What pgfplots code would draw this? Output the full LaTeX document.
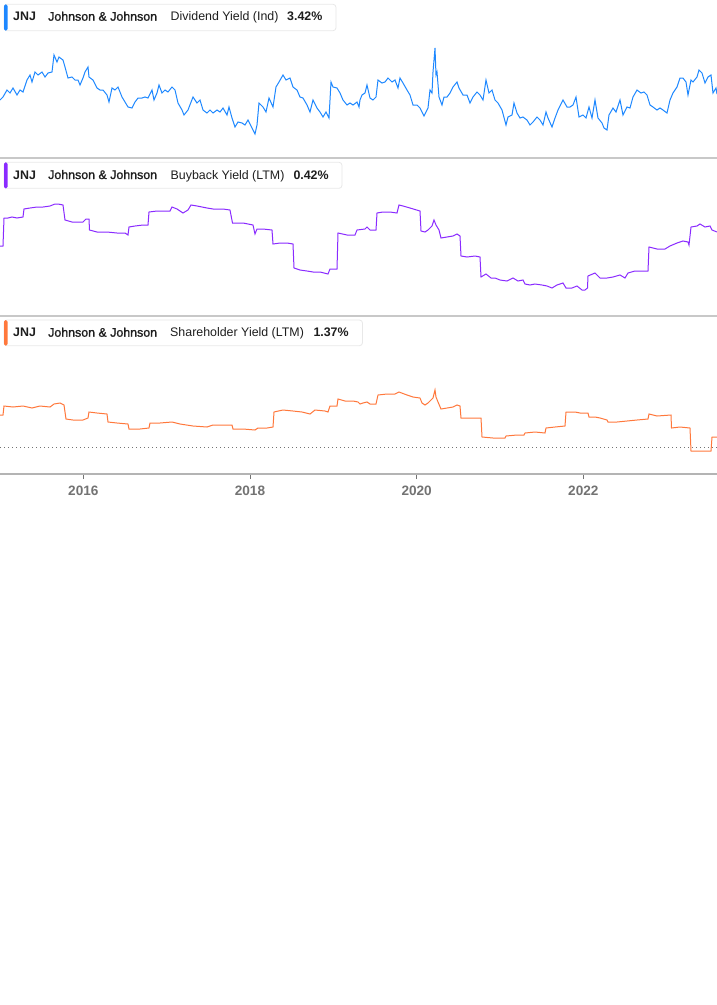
\documentclass[border=0pt]{standalone}
\usepackage{fontspec}
\setmainfont{Liberation Sans}
\newfontfamily\medfont[FakeBold=1.2]{Liberation Sans}
\usepackage{pgfplots}
\pgfplotsset{compat=1.18}

\definecolor{divblue}{RGB}{30,136,255}
\definecolor{bbpurple}{RGB}{138,43,255}
\definecolor{shorange}{RGB}{255,120,60}
\definecolor{txt}{RGB}{30,30,30}
\definecolor{boxgray}{RGB}{232,232,232}
\definecolor{sepgray}{RGB}{200,200,200}
\definecolor{axgray}{RGB}{180,180,180}
\definecolor{lblgray}{RGB}{115,115,115}

\newcommand\legfont{\fontsize{12.4pt}{14pt}\selectfont}

\pgfplotsset{
  panel/.style={
    scale only axis, width=717pt, height=158pt,
    xmin=2015.0, xmax=2023.604,
    clip=true,
  },
}

\begin{document}
\begin{tikzpicture}
\useasboundingbox (0,0) rectangle (717pt,-1005pt);
\fill[white] (0,0) rectangle (717pt,-1005pt);

% --- dividend yield
\begin{axis}[panel, at={(0pt,0pt)}, anchor=north west, hide axis,
  ymin=2.32, ymax=3.90]
\addplot[divblue, line width=1pt] coordinates {
(2015.000,2.90)(2015.036,2.93)(2015.084,3.00)(2015.120,2.97)(2015.156,3.02)(2015.204,2.95)(2015.240,3.00)(2015.276,2.98)(2015.324,3.10)(2015.360,3.15)(2015.384,3.08)(2015.420,3.18)(2015.456,3.15)(2015.504,3.18)(2015.540,3.13)(2015.576,3.17)(2015.624,3.18)(2015.648,3.35)(2015.684,3.28)(2015.708,3.33)(2015.756,3.30)(2015.780,3.23)(2015.816,3.12)(2015.864,3.13)(2015.900,3.10)(2015.936,3.10)(2015.960,3.05)(2015.996,3.12)(2016.020,3.18)(2016.056,3.23)(2016.068,3.13)(2016.116,3.10)(2016.164,3.02)(2016.200,3.00)(2016.236,3.00)(2016.284,2.95)(2016.308,2.88)(2016.344,3.02)(2016.380,3.00)(2016.416,3.03)(2016.464,2.93)(2016.500,2.88)(2016.536,2.83)(2016.584,2.82)(2016.620,2.88)(2016.656,2.92)(2016.704,2.92)(2016.740,2.93)(2016.776,2.92)(2016.824,3.00)(2016.848,2.90)(2016.884,2.97)(2016.908,3.05)(2016.944,2.97)(2016.980,3.00)(2017.016,2.98)(2017.064,3.03)(2017.100,3.00)(2017.136,2.87)(2017.184,2.80)(2017.208,2.75)(2017.256,2.80)(2017.316,2.93)(2017.364,2.87)(2017.400,2.90)(2017.436,2.80)(2017.484,2.77)(2017.520,2.80)(2017.556,2.77)(2017.604,2.80)(2017.640,2.78)(2017.676,2.82)(2017.724,2.75)(2017.748,2.83)(2017.784,2.72)(2017.820,2.63)(2017.856,2.68)(2017.904,2.67)(2017.940,2.65)(2017.976,2.70)(2018.024,2.62)(2018.060,2.56)(2018.084,2.65)(2018.108,2.87)(2018.156,2.83)(2018.192,2.78)(2018.228,2.92)(2018.276,2.83)(2018.312,3.03)(2018.348,3.08)(2018.396,3.15)(2018.432,3.10)(2018.480,3.12)(2018.516,3.03)(2018.564,3.00)(2018.600,2.93)(2018.636,2.92)(2018.684,2.85)(2018.720,2.78)(2018.756,2.90)(2018.804,2.82)(2018.840,2.78)(2018.876,2.73)(2018.912,2.78)(2018.948,2.72)(2018.972,3.08)(2018.996,3.03)(2019.044,3.02)(2019.080,2.97)(2019.116,2.90)(2019.164,2.85)(2019.200,2.87)(2019.236,2.85)(2019.284,2.88)(2019.308,2.83)(2019.320,2.90)(2019.344,2.95)(2019.380,2.97)(2019.404,3.05)(2019.440,2.92)(2019.476,2.90)(2019.512,2.93)(2019.536,3.10)(2019.584,3.07)(2019.620,3.08)(2019.656,3.12)(2019.704,3.08)(2019.740,3.10)(2019.776,3.02)(2019.800,3.12)(2019.836,3.07)(2019.884,3.00)(2019.920,2.95)(2019.956,2.85)(2020.004,2.85)(2020.040,2.82)(2020.088,2.74)(2020.136,2.82)(2020.160,3.00)(2020.184,2.97)(2020.196,3.18)(2020.220,3.42)(2020.232,3.15)(2020.244,3.18)(2020.268,2.93)(2020.304,2.85)(2020.328,2.93)(2020.364,2.93)(2020.400,2.97)(2020.436,3.03)(2020.484,3.08)(2020.508,3.02)(2020.556,2.95)(2020.604,2.95)(2020.640,2.87)(2020.676,2.93)(2020.724,2.98)(2020.760,2.95)(2020.796,2.90)(2020.832,3.10)(2020.868,2.97)(2020.904,3.00)(2020.940,2.90)(2020.976,2.87)(2021.024,2.80)(2021.072,2.65)(2021.096,2.73)(2021.144,2.75)(2021.168,2.87)(2021.204,2.77)(2021.240,2.72)(2021.276,2.73)(2021.324,2.70)(2021.360,2.65)(2021.396,2.68)(2021.444,2.73)(2021.480,2.70)(2021.516,2.65)(2021.552,2.78)(2021.576,2.72)(2021.624,2.63)(2021.660,2.72)(2021.696,2.80)(2021.756,2.90)(2021.804,2.83)(2021.840,2.83)(2021.876,2.85)(2021.912,2.93)(2021.948,2.73)(2021.996,2.75)(2022.032,2.72)(2022.068,2.83)(2022.104,2.72)(2022.140,2.90)(2022.176,2.72)(2022.224,2.67)(2022.248,2.62)(2022.284,2.60)(2022.308,2.75)(2022.356,2.82)(2022.392,2.78)(2022.440,2.90)(2022.476,2.75)(2022.524,2.83)(2022.560,2.82)(2022.596,2.93)(2022.644,3.00)(2022.692,2.97)(2022.728,2.98)(2022.764,2.95)(2022.800,2.85)(2022.836,2.83)(2022.884,2.80)(2022.920,2.82)(2022.956,2.80)(2023.004,2.77)(2023.040,2.90)(2023.076,2.97)(2023.124,3.03)(2023.160,3.12)(2023.196,3.12)(2023.232,3.08)(2023.256,2.95)(2023.292,3.10)(2023.316,3.08)(2023.364,3.13)(2023.388,3.20)(2023.424,3.17)(2023.460,3.07)(2023.496,3.13)(2023.532,3.15)(2023.556,2.97)(2023.592,3.02)(2023.604,2.96)
};
\end{axis}

% --- buyback yield
\begin{axis}[panel, at={(0pt,-158pt)}, anchor=north west, hide axis,
  ymin=-0.16, ymax=1.42]
\addplot[bbpurple, line width=1pt] coordinates {
(2015.000,0.54)(2015.036,0.54)(2015.048,0.82)(2015.096,0.82)(2015.144,0.83)(2015.204,0.82)(2015.276,0.83)(2015.288,0.91)(2015.360,0.92)(2015.444,0.93)(2015.516,0.93)(2015.600,0.94)(2015.660,0.96)(2015.696,0.96)(2015.756,0.95)(2015.780,0.80)(2015.864,0.78)(2015.936,0.78)(2015.996,0.78)(2016.032,0.81)(2016.068,0.81)(2016.074,0.70)(2016.164,0.68)(2016.284,0.68)(2016.404,0.67)(2016.500,0.67)(2016.536,0.65)(2016.548,0.73)(2016.620,0.74)(2016.716,0.75)(2016.776,0.75)(2016.788,0.88)(2016.884,0.89)(2016.980,0.89)(2017.040,0.89)(2017.064,0.93)(2017.124,0.91)(2017.196,0.87)(2017.256,0.90)(2017.292,0.95)(2017.364,0.94)(2017.484,0.92)(2017.556,0.91)(2017.676,0.91)(2017.760,0.90)(2017.790,0.77)(2017.916,0.77)(2018.036,0.75)(2018.060,0.66)(2018.084,0.71)(2018.156,0.71)(2018.264,0.70)(2018.276,0.56)(2018.360,0.57)(2018.444,0.57)(2018.516,0.56)(2018.528,0.32)(2018.600,0.30)(2018.684,0.29)(2018.756,0.28)(2018.840,0.28)(2018.936,0.26)(2018.960,0.31)(2019.044,0.31)(2019.056,0.67)(2019.164,0.65)(2019.260,0.65)(2019.284,0.70)(2019.380,0.71)(2019.404,0.73)(2019.440,0.70)(2019.512,0.70)(2019.524,0.87)(2019.596,0.88)(2019.680,0.88)(2019.764,0.87)(2019.788,0.95)(2019.836,0.94)(2019.920,0.92)(2020.040,0.89)(2020.052,0.69)(2020.100,0.68)(2020.136,0.70)(2020.184,0.74)(2020.208,0.80)(2020.232,0.75)(2020.268,0.70)(2020.292,0.62)(2020.364,0.63)(2020.436,0.64)(2020.484,0.66)(2020.520,0.64)(2020.532,0.44)(2020.604,0.43)(2020.700,0.44)(2020.760,0.43)(2020.772,0.23)(2020.832,0.26)(2020.892,0.22)(2020.940,0.22)(2021.000,0.20)(2021.084,0.19)(2021.156,0.22)(2021.216,0.19)(2021.276,0.20)(2021.300,0.16)(2021.360,0.15)(2021.420,0.16)(2021.504,0.15)(2021.564,0.14)(2021.624,0.12)(2021.684,0.15)(2021.756,0.17)(2021.792,0.12)(2021.864,0.12)(2021.924,0.14)(2021.984,0.10)(2022.020,0.10)(2022.050,0.12)(2022.056,0.24)(2022.140,0.27)(2022.200,0.22)(2022.284,0.22)(2022.356,0.23)(2022.440,0.25)(2022.500,0.22)(2022.536,0.27)(2022.620,0.29)(2022.704,0.29)(2022.776,0.29)(2022.788,0.53)(2022.884,0.51)(2022.980,0.51)(2023.040,0.54)(2023.124,0.57)(2023.196,0.59)(2023.256,0.58)(2023.268,0.55)(2023.292,0.73)(2023.364,0.74)(2023.400,0.76)(2023.460,0.73)(2023.520,0.74)(2023.544,0.70)(2023.604,0.68)
};
\end{axis}

% --- shareholder yield
\begin{axis}[panel, at={(0pt,-316pt)}, anchor=north west,
  ymin=-0.27, ymax=1.31,
  axis x line=bottom, axis y line=none,
  x axis line style={axgray, line width=2pt, -},
  xtick={2016,2018,2020,2022},
  tick align=outside, major tick length=5pt,
  x tick style={lblgray, line width=0.8pt},
  xticklabel style={font=\fontsize{13.6pt}{15pt}\selectfont\bfseries, text=lblgray,
    yshift=-3pt,
    /pgf/number format/1000 sep={}, /pgf/number format/assume math mode=true},
  ytick=\empty]
\addplot[lblgray, line width=0.8pt, dash pattern=on 0.9pt off 3.1pt] coordinates {(2015.0,0) (2023.604,0)};
\addplot[shorange, line width=1pt] coordinates {
(2015.000,0.32)(2015.036,0.32)(2015.048,0.41)(2015.156,0.40)(2015.276,0.41)(2015.384,0.39)(2015.480,0.41)(2015.600,0.40)(2015.648,0.43)(2015.720,0.44)(2015.768,0.42)(2015.792,0.28)(2015.876,0.27)(2015.996,0.27)(2016.056,0.29)(2016.068,0.35)(2016.164,0.34)(2016.284,0.33)(2016.296,0.25)(2016.404,0.24)(2016.536,0.23)(2016.548,0.18)(2016.680,0.18)(2016.788,0.19)(2016.800,0.24)(2016.920,0.24)(2017.064,0.25)(2017.160,0.23)(2017.316,0.21)(2017.484,0.20)(2017.556,0.22)(2017.676,0.22)(2017.784,0.22)(2017.796,0.18)(2017.916,0.18)(2018.060,0.17)(2018.096,0.19)(2018.204,0.19)(2018.276,0.20)(2018.288,0.35)(2018.396,0.37)(2018.516,0.36)(2018.624,0.35)(2018.720,0.33)(2018.780,0.37)(2018.900,0.36)(2018.936,0.35)(2018.960,0.41)(2019.044,0.41)(2019.056,0.48)(2019.140,0.46)(2019.236,0.46)(2019.296,0.45)(2019.320,0.43)(2019.356,0.44)(2019.404,0.45)(2019.440,0.43)(2019.512,0.43)(2019.536,0.52)(2019.644,0.53)(2019.740,0.53)(2019.788,0.55)(2019.884,0.52)(2019.956,0.50)(2020.040,0.49)(2020.064,0.44)(2020.100,0.42)(2020.136,0.44)(2020.172,0.47)(2020.196,0.49)(2020.220,0.57)(2020.232,0.50)(2020.256,0.45)(2020.292,0.38)(2020.364,0.39)(2020.436,0.40)(2020.484,0.42)(2020.520,0.41)(2020.532,0.29)(2020.640,0.29)(2020.772,0.29)(2020.784,0.10)(2020.916,0.09)(2021.060,0.09)(2021.072,0.11)(2021.204,0.12)(2021.288,0.12)(2021.300,0.14)(2021.420,0.15)(2021.540,0.14)(2021.552,0.19)(2021.660,0.20)(2021.780,0.21)(2021.792,0.35)(2021.900,0.35)(2021.960,0.34)(2022.056,0.34)(2022.068,0.30)(2022.140,0.30)(2022.200,0.29)(2022.284,0.27)(2022.296,0.25)(2022.404,0.25)(2022.524,0.26)(2022.644,0.27)(2022.776,0.28)(2022.788,0.33)(2022.884,0.31)(2023.052,0.32)(2023.058,0.19)(2023.160,0.20)(2023.280,0.19)(2023.292,-0.04)(2023.400,-0.04)(2023.532,-0.04)(2023.544,0.10)(2023.604,0.10)
};
\end{axis}

% panel separators and legend boxes
\begin{scope}[x=1pt, y=-1pt]
\draw[sepgray, line width=1.2pt] (0,158) -- (717,158);
\draw[sepgray, line width=1.2pt] (0,316) -- (717,316);

\draw[boxgray, fill=white, rounded corners=3pt, line width=0.8pt] (4,4.3) rectangle (336,30.7);
\fill[divblue, rounded corners=1.5pt] (4,4.3) rectangle (7.5,30.7);
\node[anchor=base west, inner sep=0, text=txt] at (13,20.7) {\legfont\bfseries JNJ};
\node[anchor=base west, inner sep=0, text=txt] at (48,20.7) {\legfont\medfont Johnson \& Johnson};
\node[anchor=base west, inner sep=0, text=txt] at (170.5,20.7) {\legfont Dividend Yield (Ind)};
\node[anchor=base west, inner sep=0, text=txt] at (287,20.7) {\legfont\bfseries 3.42\%};

\draw[boxgray, fill=white, rounded corners=3pt, line width=0.8pt] (4,162.3) rectangle (342,188.3);
\fill[bbpurple, rounded corners=1.5pt] (4,162.3) rectangle (7.5,188.3);
\node[anchor=base west, inner sep=0, text=txt] at (13,179) {\legfont\bfseries JNJ};
\node[anchor=base west, inner sep=0, text=txt] at (48,179) {\legfont\medfont Johnson \& Johnson};
\node[anchor=base west, inner sep=0, text=txt] at (170.5,179) {\legfont Buyback Yield (LTM)};
\node[anchor=base west, inner sep=0, text=txt] at (293.3,179) {\legfont\bfseries 0.42\%};

\draw[boxgray, fill=white, rounded corners=3pt, line width=0.8pt] (4,320) rectangle (362.5,345.7);
\fill[shorange, rounded corners=1.5pt] (4,320) rectangle (7.5,345.7);
\node[anchor=base west, inner sep=0, text=txt] at (13,336.7) {\legfont\bfseries JNJ};
\node[anchor=base west, inner sep=0, text=txt] at (48,336.7) {\legfont\medfont Johnson \& Johnson};
\node[anchor=base west, inner sep=0, text=txt] at (170,336.7) {\legfont Shareholder Yield (LTM)};
\node[anchor=base west, inner sep=0, text=txt] at (313.3,336.7) {\legfont\bfseries 1.37\%};
\end{scope}
\end{tikzpicture}
\end{document}
